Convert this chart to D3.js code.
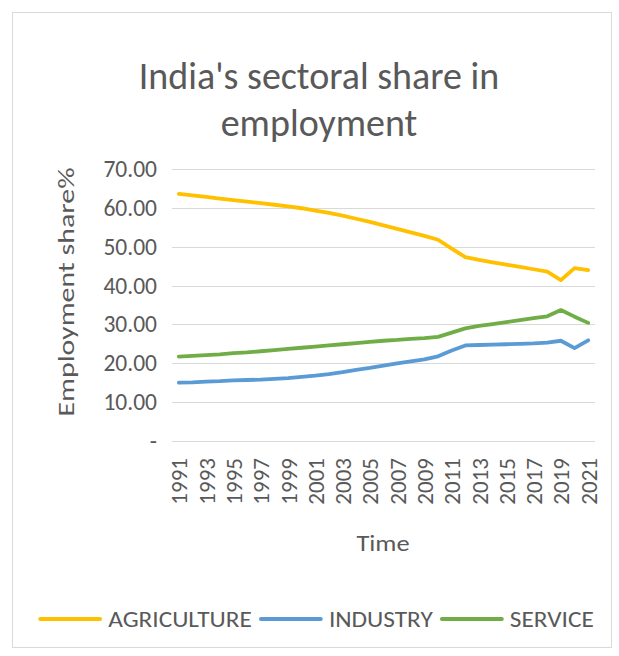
<!DOCTYPE html>
<html>
<head>
<meta charset="utf-8">
<script src="https://cdn.jsdelivr.net/npm/d3@7"></script>
<style>
  html, body { margin: 0; padding: 0; background: #fff; }
  svg { display: block; }
  text { font-family: Carlito, Calibri, Lato, "Open Sans", sans-serif; fill: #595959; }
</style>
</head>
<body>
<svg id="chart" width="619" height="656"></svg>
<script>
// Years on the category axis
const years = [1991, 1992, 1993, 1994, 1995, 1996, 1997, 1998, 1999, 2000,
               2001, 2002, 2003, 2004, 2005, 2006, 2007, 2008, 2009, 2010,
               2011, 2012, 2013, 2014, 2015, 2016, 2017, 2018, 2019, 2020, 2021];

// Employment share (%) by sector
const agriculture = [63.6, 63.2, 62.8, 62.4, 62.0, 61.6, 61.2, 60.8, 60.4, 59.9,
                     59.3, 58.7, 58.0, 57.2, 56.4, 55.5, 54.6, 53.7, 52.8, 51.8,
                     49.5, 47.3, 46.6, 46.0, 45.4, 44.8, 44.2, 43.6, 41.4, 44.5, 44.0];
const industry = [15.0, 15.1, 15.3, 15.4, 15.6, 15.7, 15.8, 16.0, 16.2, 16.5,
                  16.8, 17.2, 17.7, 18.3, 18.8, 19.4, 20.0, 20.5, 21.0, 21.8,
                  23.3, 24.6, 24.7, 24.8, 24.9, 25.0, 25.1, 25.3, 25.8, 23.9, 25.9];
const service = [21.7, 21.9, 22.1, 22.3, 22.6, 22.8, 23.1, 23.4, 23.7, 24.0,
                 24.3, 24.6, 24.9, 25.2, 25.5, 25.8, 26.0, 26.3, 26.5, 26.8,
                 27.9, 29.0, 29.6, 30.1, 30.6, 31.1, 31.6, 32.1, 33.7, 32.0, 30.4];

const seriesNames = ["AGRICULTURE", "INDUSTRY", "SERVICE"];
const seriesColors = ["#FFC000", "#5B9BD5", "#70AD47"];
const seriesValues = [agriculture, industry, service];

const yTicks = [0, 10, 20, 30, 40, 50, 60, 70];
const xTickYears = years.filter((y, i) => i % 2 === 0);

const titleLines = ["India's sectoral share in", "employment"];
const yTitle = "Employment share%";
const xTitle = "Time";

const svg = d3.select("#chart");

// Chart frame
svg.append("rect")
  .attr("x", 12.5).attr("y", 12.5)
  .attr("width", 599).attr("height", 635)
  .attr("fill", "#fff")
  .attr("stroke", "#d9d9d9")
  .attr("stroke-width", 1);

const plot = { left: 172, right: 595, top: 169, bottom: 441 };

const x = d3.scalePoint()
  .domain(years)
  .range([plot.left, plot.right])
  .padding(0.5);

const y = d3.scaleLinear()
  .domain([0, 70])
  .range([plot.bottom, plot.top]);

// Title
svg.append("text")
  .attr("text-anchor", "middle")
  .style("font-size", "38px")
  .selectAll("tspan")
  .data(titleLines)
  .join("tspan")
  .attr("x", 319)
  .attr("y", (d, i) => 89 + i * 47)
  .text(d => d);

// Horizontal gridlines
svg.append("g")
  .selectAll("line")
  .data(yTicks)
  .join("line")
  .attr("x1", plot.left).attr("x2", plot.right)
  .attr("y1", d => Math.round(y(d)) + 0.5)
  .attr("y2", d => Math.round(y(d)) + 0.5)
  .attr("stroke", "#d9d9d9")
  .attr("stroke-width", 1);

// Y axis labels
const yAxis = d3.axisLeft(y)
  .tickValues(yTicks)
  .tickSize(0)
  .tickPadding(15)
  .tickFormat(d => d === 0 ? "-" : d3.format(".2f")(d));

svg.append("g")
  .attr("transform", `translate(${plot.left},0)`)
  .call(yAxis)
  .call(g => g.select(".domain").remove())
  .call(g => g.selectAll("text")
    .style("font-size", "23.5px")
    .style("font-family", null)
    .attr("fill", "#595959"));

// X axis labels (rotated years)
const xAxis = d3.axisBottom(x)
  .tickValues(xTickYears)
  .tickSize(0)
  .tickPadding(0);

svg.append("g")
  .attr("transform", `translate(0,${plot.bottom})`)
  .call(xAxis)
  .call(g => g.select(".domain").remove())
  .call(g => g.selectAll("text")
    .style("font-size", "23px")
    .style("font-family", null)
    .attr("fill", "#595959")
    .attr("text-anchor", "end")
    .attr("dy", "0.35em")
    .attr("y", 0)
    .attr("transform", "translate(0,17) rotate(-90)"));

// Axis titles
svg.append("text")
  .attr("transform", "translate(74,292) rotate(-90) scale(1.3,1)")
  .attr("text-anchor", "middle")
  .style("font-size", "23px")
  .text(yTitle);

svg.append("text")
  .attr("transform", "translate(383,551) scale(1.15,1)")
  .attr("text-anchor", "middle")
  .style("font-size", "23px")
  .text(xTitle);

// Series lines
const line = d3.line()
  .x((d, i) => x(years[i]))
  .y(d => y(d));

svg.append("g")
  .selectAll("path")
  .data(seriesValues)
  .join("path")
  .attr("d", d => line(d))
  .attr("fill", "none")
  .attr("stroke", (d, i) => seriesColors[i])
  .attr("stroke-width", 3.8)
  .attr("stroke-linejoin", "round")
  .attr("stroke-linecap", "round");

// Legend: swatch, label, then the next entry, centred as a group
const legendY = 619;
const swatchLen = 60, swatchGap = 8, itemGap = 9, labelStretch = 1.1;
const lg = svg.append("g");
const labels = seriesNames.map(name =>
  lg.append("text")
    .attr("dy", "0.35em")
    .style("font-size", "23px")
    .text(name));
const widths = labels.map(t => t.node().getComputedTextLength() * labelStretch);
const total = d3.sum(widths) + seriesNames.length * (swatchLen + swatchGap) + (seriesNames.length - 1) * itemGap;
let cursor = 317 - total / 2;
seriesNames.forEach((name, i) => {
  lg.append("line")
    .attr("x1", cursor).attr("x2", cursor + swatchLen)
    .attr("y1", legendY).attr("y2", legendY)
    .attr("stroke", seriesColors[i])
    .attr("stroke-width", 3.8)
    .attr("stroke-linecap", "round");
  cursor += swatchLen + swatchGap;
  labels[i].attr("transform", `translate(${cursor},${legendY}) scale(${labelStretch},1)`);
  cursor += widths[i] + itemGap;
});
</script>
</body>
</html>
